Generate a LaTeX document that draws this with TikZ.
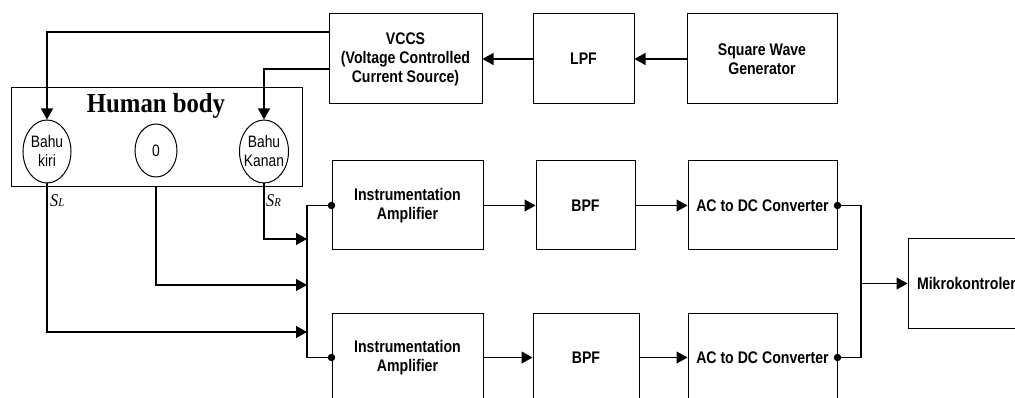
\documentclass[tikz,border=0pt]{standalone}
\usepackage{fontspec}
\newfontfamily\sfn{Liberation Sans}[FakeStretch=0.84]
\newfontfamily\serifn{Liberation Serif}[FakeStretch=0.9]
\usetikzlibrary{arrows.meta,shapes.geometric,calc}
\begin{document}
\begin{tikzpicture}[x=1pt,y=-1pt,
  blk/.style={draw,line width=1pt,inner sep=0pt,align=center,font=\sfn\bfseries\fontsize{16.8}{19}\selectfont},
  elp/.style={draw,ellipse,line width=1pt,inner sep=0pt},
  etxt/.style={inner sep=0pt,align=center,font=\sfn\fontsize{16.5}{19}\selectfont},
  wire/.style={line width=1.1pt},
  arr/.style={wire,-{Triangle[length=11pt,width=12pt]}},
  jdot/.style={circle,fill,inner sep=0pt,minimum size=7.5pt},
  slab/.style={anchor=base west,inner sep=0pt}]
\useasboundingbox (0,0) rectangle (1015,398);
% top chain
\node[blk,minimum width=153pt,minimum height=90pt] (vccs) at (405.5,59) {VCCS\\(Voltage Controlled\\Current Source)};
\node[blk,minimum width=101pt,minimum height=90pt] (lpf) at (583.5,59) {LPF};
\node[blk,minimum width=150pt,minimum height=90pt] (swg) at (762,59) {Square Wave\\Generator};
% human body
\node[draw,line width=1pt,inner sep=0pt,minimum width=291pt,minimum height=99pt] (body) at (156.5,137.5) {};
\node[anchor=base,inner sep=0pt,font=\serifn\bfseries\fontsize{27.5}{27}\selectfont] (title) at (156,113) {Human body};
\node[elp,minimum width=48pt,minimum height=63pt] (kiri) at (47,151.5) {};
\node[elp,minimum width=42pt,minimum height=53pt] (zero) at (156,150.5) {};
\node[elp,minimum width=49pt,minimum height=63pt] (kanan) at (264,151.5) {};
\node[etxt] (tkiri) at (kiri) {Bahu\\kiri};
\node[etxt] (tzero) at (zero) {0};
\node[etxt] (tkanan) at (kanan) {Bahu\\Kanan};
% signal chain
\node[blk,minimum width=151pt,minimum height=89pt] (ia1) at (407.5,205.5) {Instrumentation\\Amplifier};
\node[blk,minimum width=99pt,minimum height=89pt] (bpf1) at (585.5,205.5) {BPF};
\node[blk,minimum width=149pt,minimum height=89pt] (ac1) at (762.5,205.5) {AC to DC Converter};
\node[blk,minimum width=151pt,minimum height=89pt] (ia2) at (407.5,357.5) {Instrumentation\\Amplifier};
\node[blk,minimum width=106pt,minimum height=89pt] (bpf2) at (586,357.5) {BPF};
\node[blk,minimum width=149pt,minimum height=89pt] (ac2) at (762.5,357.5) {AC to DC Converter};
\node[blk,minimum height=89pt,text width=104pt,align=left,inner xsep=9pt] (mk) at (969,283.5) {Mikrokontroler};
% coordinates
\coordinate (inR) at (307,239);
\coordinate (inM) at (307,285);
\coordinate (inL) at (307,332);
\coordinate (jn) at (861,283.5);
% wires top
\draw[arr] (swg) -- (lpf);
\draw[arr] (lpf) -- (vccs);
\draw[arr] ([yshift=27pt]vccs.west) -| (kiri.north);
\draw[arr] ([yshift=-10pt]vccs.west) -| (kanan.north);
% inputs
\draw[arr] (kanan.south) |- (inR);
\draw[arr] (zero |- body.south) |- (inM);
\draw[arr] (kiri.south) |- (inL);
\draw[wire] (ia1.west) -- (ia1.west -| inR) -- (ia2.west -| inR) -- (ia2.west);
\node[jdot] (d1) at (ia1.west) {};
\node[jdot] (d2) at (ia2.west) {};
% chain arrows
\draw[arr] (ia1) -- (bpf1);
\draw[arr] (bpf1) -- (ac1);
\draw[arr] (ia2) -- (bpf2);
\draw[arr] (bpf2) -- (ac2);
% output
\draw[wire] (ac1.east) -- (ac1.east -| jn) -- (ac2.east -| jn) -- (ac2.east);
\node[jdot] (d3) at (ac1.east) {};
\node[jdot] (d4) at (ac2.east) {};
\draw[arr] (jn) -- (mk.west);
% labels
\node[slab] (sl) at (50,207) {\serifn\itshape\fontsize{18}{18}\selectfont S\fontsize{12}{12}\selectfont L};
\node[slab] (sr) at (266,207) {\serifn\itshape\fontsize{18}{18}\selectfont S\fontsize{12}{12}\selectfont R};
\end{tikzpicture}
\end{document}
